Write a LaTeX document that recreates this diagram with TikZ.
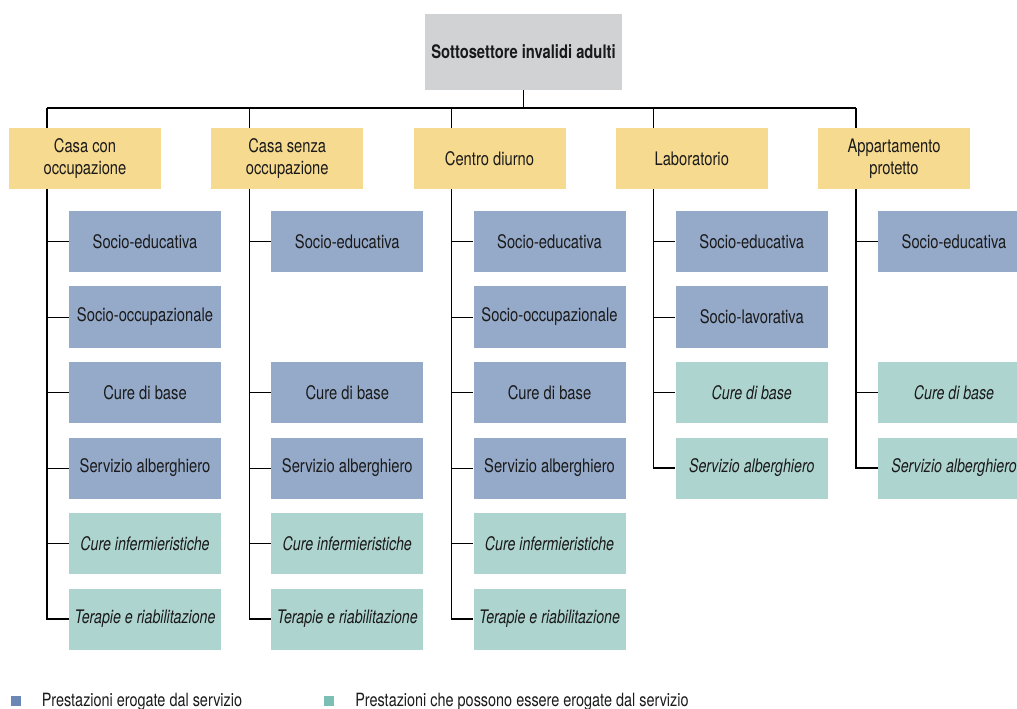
\documentclass[tikz,border=0pt]{standalone}
\usepackage{fontspec}
\setmainfont{TeX Gyre Heros}[FakeStretch=0.79, ItalicFeatures={FakeStretch=0.76}]
\definecolor{grigio}{HTML}{D1D2D4}
\definecolor{giallo}{HTML}{F6DA8F}
\definecolor{blu}{HTML}{95A9C9}
\definecolor{verde}{HTML}{AED4CF}
\definecolor{legblu}{HTML}{6A87B5}
\definecolor{legverde}{HTML}{7CBFB5}
\definecolor{testo}{HTML}{1A1A1A}

\begin{document}
\begin{tikzpicture}[x=0.75pt, y=-0.75pt,
  every node/.style={font=\fontsize{14}{16.5}\selectfont, text=testo},
  liv/.style={minimum width=114pt, minimum height=45.75pt, inner sep=0pt, align=center},
  sett/.style={liv, fill=giallo},
  fisso/.style={liv, fill=blu},
  extra/.style={liv, fill=verde, font=\fontsize{14}{16.5}\selectfont\itshape},
  bus/.style={draw=black, line width=1pt},
  ramo/.style={draw=black, line width=0.75pt}]
\useasboundingbox (0,0) rectangle (1017,709);

% radice
\node[liv, fill=grigio, minimum width=147.75pt, minimum height=57pt,
  font=\fontsize{14}{16.5}\selectfont\bfseries] (top) at (523.5,52) {Sottosettore invalidi adulti};

% strutture
\node[sett] (c1) at (85,158.5) {Casa con\\occupazione};
\node[sett] (c2) at (287.25,158.5) {Casa senza\\occupazione};
\node[sett] (c3) at (489.5,158.5) {Centro diurno};
\node[sett] (c4) at (691.75,158.5) {Laboratorio};
\node[sett] (c5) at (894,158.5) {Appartamento\\protetto};

\coordinate (sa) at (47,108);
\coordinate (sb) at (249.25,108);
\coordinate (sd) at (451.5,108);
\coordinate (sl) at (653.75,108);
\coordinate (sp) at (856,108);

\draw[bus] (top.south) |- (sa);
\draw[bus] (top.south) |- (sp);
\draw[bus] (sa) -- (sa |- c1.north);
\draw[bus] (sb) -- (sb |- c2.north);
\draw[bus] (sd) -- (sd |- c3.north);
\draw[bus] (sl) -- (sl |- c4.north);
\draw[bus] (sp) -- (sp |- c5.north);

% casa con occupazione
\node[fisso] (a1) at (145,241.5) {Socio-educativa};
\node[fisso] (a2) at (145,317) {Socio-occupazionale};
\node[fisso] (a3) at (145,392.5) {Cure di base};
\node[fisso] (a4) at (145,468) {Servizio alberghiero};
\node[extra] (a5) at (145,543.5) {Cure infermieristiche};
\node[extra] (a6) at (145,619) {Terapie e riabilitazione};

% casa senza occupazione
\node[fisso] (b1) at (347.25,241.5) {Socio-educativa};
\node[fisso] (b3) at (347.25,392.5) {Cure di base};
\node[fisso] (b4) at (347.25,468) {Servizio alberghiero};
\node[extra] (b5) at (347.25,543.5) {Cure infermieristiche};
\node[extra] (b6) at (347.25,619) {Terapie e riabilitazione};

% centro diurno
\node[fisso] (d1) at (549.5,241.5) {Socio-educativa};
\node[fisso] (d2) at (549.5,317) {Socio-occupazionale};
\node[fisso] (d3) at (549.5,392.5) {Cure di base};
\node[fisso] (d4) at (549.5,468) {Servizio alberghiero};
\node[extra] (d5) at (549.5,543.5) {Cure infermieristiche};
\node[extra] (d6) at (549.5,619) {Terapie e riabilitazione};

% laboratorio
\node[fisso] (l1) at (751.75,241.5) {Socio-educativa};
\node[fisso] (l2) at (751.75,317) {Socio-lavorativa};
\node[extra] (l3) at (751.75,392.5) {Cure di base};
\node[extra] (l4) at (751.75,468) {Servizio alberghiero};

% appartamento protetto
\node[fisso] (p1) at (954,241.5) {Socio-educativa};
\node[extra] (p3) at (954,392.5) {Cure di base};
\node[extra] (p4) at (954,468) {Servizio alberghiero};

\draw[bus] (sa |- c1.south) |- (a6.west);
\draw[bus] (sb |- c2.south) |- (b6.west);
\draw[bus] (sd |- c3.south) |- (d6.west);
\draw[bus] (sl |- c4.south) |- (l4.west);
\draw[bus] (sp |- c5.south) |- (p4.west);
\foreach \n in {a1,a2,a3,a4,a5} \draw[ramo] (sa |- \n.west) -- (\n.west);
\foreach \n in {b1,b3,b4,b5} \draw[ramo] (sb |- \n.west) -- (\n.west);
\foreach \n in {d1,d2,d3,d4,d5} \draw[ramo] (sd |- \n.west) -- (\n.west);
\foreach \n in {l1,l2,l3} \draw[ramo] (sl |- \n.west) -- (\n.west);
\foreach \n in {p1,p3} \draw[ramo] (sp |- \n.west) -- (\n.west);

% legenda
\tikzset{leg/.style={anchor=base west, inner sep=0pt, font=\fontsize{13.7}{16}\selectfont},
  quad/.style={minimum size=7.5pt, inner sep=0pt}}
\node[quad, fill=legblu] (qa) at (16,701) {};
\node[leg] (la) at (41.5,706.5) {Prestazioni erogate dal servizio};
\node[quad, fill=legverde] (qb) at (329,701) {};
\node[leg] (lb) at (355,706.5) {Prestazioni che possono essere erogate dal servizio};
\end{tikzpicture}
\end{document}
